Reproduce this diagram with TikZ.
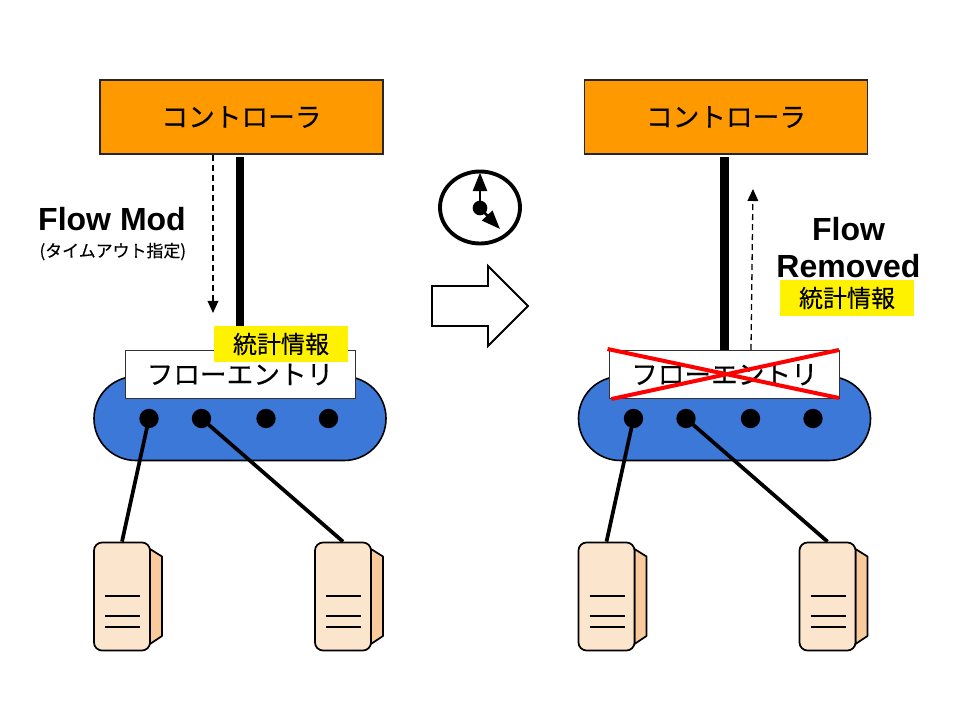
\documentclass[tikz,border=0pt]{standalone}
\usepackage{fontspec}
\setmainfont{Liberation Sans}
\newfontfamily\jpfont[FakeBold=0.25]{Noto Sans CJK JP}
\usetikzlibrary{arrows.meta,shapes.geometric}
\definecolor{ctlorange}{HTML}{FF9900}
\definecolor{swblue}{HTML}{3C78D8}
\definecolor{srvfront}{HTML}{FCE5CD}
\definecolor{srvside}{HTML}{F9CB9C}
\tikzset{
  x=0.75pt,y=-0.75pt,
  ctlbox/.style={draw=black!85,line width=1.1pt,fill=ctlorange,minimum width=212pt,minimum height=55.5pt,inner sep=0pt,font=\jpfont\fontsize{20}{24}\selectfont},
  swbody/.style={draw=black,line width=1.2pt,fill=swblue,minimum width=219pt,minimum height=63pt,rounded corners=31.4pt,inner sep=0pt},
  entrybox/.style={draw=black!80,line width=0.7pt,fill=white,minimum width=172.5pt,minimum height=36pt,inner sep=0pt,font=\jpfont\fontsize{20}{24}\selectfont},
  portdot/.style={circle,fill=black,minimum size=14.5pt,inner sep=0pt},
  srvbox/.style={draw=black,line width=1.3pt,fill=srvfront,minimum width=42pt,minimum height=81pt,rounded corners=6pt,inner sep=0pt},
  srvback/.style={fill=srvside,draw=black,line width=1.3pt,line join=round},
  yellowtag/.style={fill=yellow,minimum width=100.5pt,minimum height=27pt,inner sep=0pt,font=\jpfont\fontsize{18}{22}\selectfont},
  linkline/.style={line width=2.8pt,black},
  trunk/.style={line width=6.2pt,black},
  msgarrow/.style={line width=1pt,dash pattern=on 4.5pt off 3pt,-{Triangle[length=9pt,width=8pt]}},
  boldlabel/.style={font=\bfseries\fontsize{24}{27}\selectfont,inner sep=0pt,align=center},
  handarrow/.style={line width=2pt,-{Triangle[length=14pt,width=10.5pt]}},
  srvrule/.style={line width=1.1pt,black},
  clockface/.style={ellipse,draw=black,line width=2.9pt,minimum width=60pt,minimum height=54pt,inner sep=0pt},
  redcross/.style={red,line width=3pt},
  blockarrow/.style={line width=1.4pt,fill=white,line join=miter},
}
\newcommand{\panelparts}{%
  \node[ctlbox] (ctl) at (241.5,117) {\raisebox{-1pt}{コントローラ}};
  \node[swbody] (sw) at (240,418.5) {};
  \draw[srvback] (150,549) -- (162,556.5) -- (162,636) -- (150,644) -- cycle;
  \draw[srvback] (371,549) -- (383,556.5) -- (383,636) -- (371,644) -- cycle;
  \node[srvbox] (srvA) at (122,596.5) {};
  \node[srvbox] (srvB) at (343,596.5) {};
  \foreach \yy in {596,616,627}{
    \draw[srvrule] (105,\yy) -- (140,\yy);
    \draw[srvrule] (326,\yy) -- (361,\yy);
  }
  \draw[linkline] (149,418.5) -- (srvA.north);
  \draw[linkline] (201.5,418.5) -- (srvB.north);
  \node[portdot] (p1) at (149,418.5) {};
  \node[portdot] (p2) at (201.5,418.5) {};
  \node[portdot] (p3) at (266,418.5) {};
  \node[portdot] (p4) at (328.5,418.5) {};
  \node[entrybox] (entry) at (240,374.5) {\raisebox{-0.7pt}{フローエントリ}};
  \draw[trunk,shorten <=2pt] (ctl.south -| entry.north) -- (entry.north);
}
\begin{document}
\begin{tikzpicture}
\useasboundingbox (0,0) rectangle (960,720);
\fill[white] (0,0) rectangle (960,720);
\begin{scope}[name prefix=L-]
  \panelparts
  \node[yellowtag] (tag) at (281,344) {統計情報};
  \coordinate (dnstart) at (213,155);
  \coordinate (dnend) at (213,313);
  \draw[msgarrow] (dnstart) -- (dnend);
  \node[boldlabel,anchor=base] (fm) at (112,231) {Flow Mod};
  \node[inner sep=0pt,anchor=base] (fmsub) at (112.8,257) {\jpfont\fontsize{12.7}{15}\selectfont (タイムアウト指定)};
\end{scope}
\begin{scope}[xshift=363.375pt,name prefix=R-]
  \panelparts
  \coordinate (xa) at (123,349);
  \coordinate (xb) at (354.5,398);
  \coordinate (xc) at (354.5,350);
  \coordinate (xd) at (127,399);
  \draw[redcross] (xa) -- (xb);
  \draw[redcross] (xc) -- (xd);
\end{scope}
\coordinate (upstart) at (751,350);
\coordinate (upend) at (753,189);
\draw[msgarrow] (upstart) -- (upend);
\node[boldlabel,anchor=base] (fr1) at (848.5,241) {Flow};
\node[boldlabel,anchor=base] (fr2) at (848.5,277) {Removed};
\node[yellowtag] (tagR) at (847,298) {統計情報};
\node[clockface] (clock) at (480,207.5) {};
\node[circle,fill=black,minimum size=11pt,inner sep=0pt] (hub) at (480,208) {};
\coordinate (hand1) at (480,172.5);
\coordinate (hand2) at (500,229);
\draw[handarrow] (hub.center) -- (hand1);
\draw[handarrow] (hub.center) -- (hand2);
\draw[blockarrow] (432,286) -- (488,286) -- (488,266) -- (528,306) -- (488,346) -- (488,326) -- (432,326) -- cycle;
\end{tikzpicture}
\end{document}
